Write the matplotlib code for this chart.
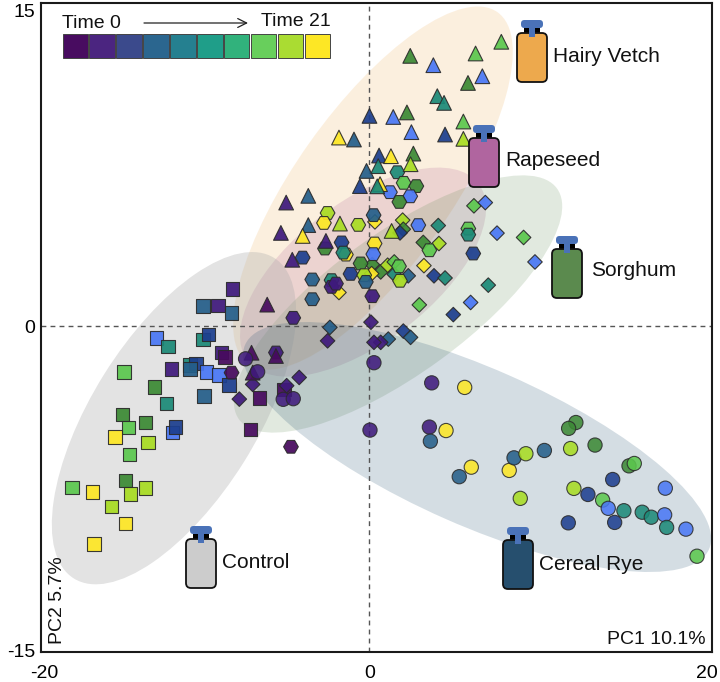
import matplotlib
matplotlib.use('Agg')
import matplotlib.pyplot as plt
from matplotlib.patches import Ellipse, FancyBboxPatch, Rectangle
from matplotlib.transforms import Affine2D

plt.rcParams['font.family'] = ['Liberation Sans', 'DejaVu Sans']

############################################
# data, time index 0-9 for every sample

legend_colors = ['#480c60', '#4b2580', '#3b4a8c', '#2b668f', '#258090',
                 '#1f9e89', '#31b27c', '#68cf5c', '#aadc32', '#fde725']

# colours the points really use
time_colors = ['#470a5e', '#3f1a7c', '#1d3f8f', '#255f8a', '#4a78f5',
               '#1c8a78', '#3c8a35', '#5cc84e', '#a8dc22', '#fde725']

control_x = [-12.90, -12.20, -10.08, -9.77, -8.96, -8.76, -14.88, -12.01, -10.88, -10.52,
             -10.88, -9.87, -9.13, -8.52, -13.02, -12.30, -10.02, -6.68, -5.19, -14.98,
             -14.62, -13.57, -11.93, -11.75, -15.41, -13.41, -14.54, -7.21, -14.80, -13.59,
             -14.48, -18.03, -16.78, -15.65, -14.80, -16.70, -8.30, -10.08, -9.17, -8.36]
control_y = [-0.54, -0.95, -0.62, -0.39, -1.22, -1.42, -2.11, -1.97, -1.80, -1.72,
             -1.97, -2.11, -2.26, -2.72, -2.80, -3.57, -3.22, -3.31, -2.92, -4.08,
             -4.68, -4.45, -4.91, -4.65, -5.11, -5.38, -5.92, -4.77, -7.12, -7.46,
             -7.74, -7.45, -7.66, -8.32, -9.12, -10.06, 1.72, 0.92, 0.95, 0.61]
control_t = [4, 5, 5, 2, 1, 0, 7, 1, 5, 2,
             3, 4, 4, 2, 6, 5, 3, 0, 0, 6,
             7, 6, 4, 2, 9, 8, 7, 0, 6, 8,
             8, 7, 9, 8, 9, 9, 1, 3, 1, 3]

sorghum_x = [6.33, 7.02, 7.73, 9.34, 10.03, 4.17, 2.01, 2.05, 1.85, 3.26,
             4.21, 0.33, 3.30, 2.35, 3.91, 4.58, 0.68, 0.17, 1.10, 1.50,
             1.50, 0.13, 7.20, 3.02, 6.13, 5.08, 0.09, 2.05, 2.49, 1.14,
             0.68, 0.27, -2.40, -2.54, -4.26, -7.08, -7.89, -5.02, -1.85]
sorghum_y = [5.55, 5.70, 4.29, 4.09, 2.96, 4.64, 4.89, 4.47, 4.30, 3.86,
             3.81, 4.81, 2.79, 2.32, 2.32, 2.22, 2.50, 2.84, 2.81, 2.96,
             2.39, 2.42, 1.89, 0.98, 1.09, 0.53, 0.18, -0.23, -0.52, -0.60,
             -0.75, -0.75, -0.06, -0.68, -2.37, -2.69, -3.37, -2.75, 1.55]
sorghum_t = [7, 4, 4, 7, 4, 5, 8, 6, 2, 6,
             8, 9, 9, 3, 2, 5, 6, 6, 8, 7,
             5, 9, 5, 7, 4, 2, 1, 2, 3, 3,
             1, 1, 3, 1, 1, 1, 1, 1, 9]

rapeseed_x = [-2.54, -2.76, -0.68, -1.69, -2.70, -1.43, -1.59, -4.05, -0.54, -3.47,
              -1.15, -2.30, -0.32, -0.22, -2.30, -2.03, -3.47, -4.62, 0.17, 1.69,
              2.07, 2.84, 1.24, 2.47, 1.81, 0.25, 2.96, 0.31, 0.23, 1.79,
              1.85, 5.99, 5.99, 6.29, 3.63, -8.36, -5.67, -4.76]
rapeseed_y = [5.22, 4.76, 4.67, 3.86, 3.58, 3.30, 3.39, 3.16, 2.89, 2.15,
              2.41, 2.12, 2.35, 2.04, 1.81, 1.96, 1.24, 0.38, 1.38, 7.10,
              6.61, 6.46, 6.18, 5.99, 5.73, 5.12, 4.66, 3.81, 3.32, 2.76,
              2.09, 4.50, 4.22, 3.35, 3.50, -2.15, -1.22, -5.57]
rapeseed_t = [8, 9, 8, 2, 6, 9, 5, 2, 6, 3,
              2, 5, 8, 3, 1, 1, 3, 1, 1, 5,
              7, 6, 4, 4, 6, 3, 4, 9, 4, 7,
              8, 7, 5, 2, 7, 0, 1, 0]

vetch_x = [-1.85, -0.94, -0.18, -0.58, 0.0, -5.05, -3.71, -1.79, -3.71, -5.37,
           -4.05, -2.64, -4.68, -6.20, 7.99, 6.43, 2.47, 3.87, 6.84, 5.97,
           4.11, 4.52, 1.44, 2.27, 5.69, 2.54, 4.58, 5.69, 2.66, 0.58,
           1.30, 2.49, 0.53, 0.64, 0.47, 1.34, -7.15, -5.67, -7.08]
vetch_y = [8.70, 8.61, 7.16, 6.46, 9.70, 5.70, 6.01, 4.73, 4.66, 4.30,
           4.16, 3.93, 3.06, 0.99, 13.12, 12.58, 12.47, 12.04, 11.53, 11.22,
           10.61, 10.30, 9.65, 9.86, 9.44, 8.95, 8.84, 8.64, 7.96, 7.87,
           7.84, 7.47, 7.38, 6.55, 6.45, 4.39, -1.23, -1.38, -2.15]
vetch_t = [9, 3, 3, 2, 2, 1, 3, 8, 3, 1,
           9, 1, 1, 0, 7, 7, 6, 4, 4, 6,
           5, 5, 4, 6, 7, 4, 2, 8, 6, 2,
           9, 8, 5, 9, 5, 8, 0, 0, 0]

rye_x = [0.27, 0.03, 3.77, 5.77, 3.63, 4.64, 3.69, 6.17, 5.44, 8.47,
         8.76, 9.48, 10.60, 9.14, 12.19, 12.51, 12.07, 13.67, 15.73, 16.05,
         14.74, 17.93, 12.39, 13.24, 14.13, 14.47, 15.42, 16.53, 17.08, 17.89,
         18.01, 19.18, 14.86, 12.05, 19.85, -7.51, -6.78, -5.23, -4.62]
rye_y = [-1.69, -4.80, -2.62, -2.83, -4.66, -4.82, -5.31, -6.51, -6.95, -6.66,
         -6.08, -5.89, -5.74, -7.95, -5.65, -4.45, -4.72, -5.49, -6.45, -6.34,
         -7.08, -7.48, -7.49, -7.77, -8.03, -8.41, -8.52, -8.59, -8.82, -8.71,
         -9.29, -9.37, -9.06, -9.08, -10.62, -1.51, -2.11, -3.38, -3.35]
rye_t = [1, 1, 1, 9, 1, 9, 3, 9, 3, 9,
         3, 8, 3, 8, 8, 6, 6, 6, 6, 7,
         2, 4, 8, 2, 7, 4, 5, 5, 5, 4,
         5, 4, 2, 2, 7, 1, 1, 1, 1]

# ellipse centres in PC units, sizes in pixels
ell_names = ['vetch', 'rapeseed', 'sorghum', 'control', 'rye']
ell_cx = [0.21, -0.39, 1.73, -11.85, 6.52]
ell_cy = [6.37, 2.49, 1.02, -4.25, -5.58]
ell_w = [431, 291, 393, 378, 507]
ell_h = [156, 140, 140, 165, 157]
ell_angle = [54.7, 37.5, 36, 58, -23.8]
ell_color = ['#eda94d', '#b2669c', '#5b8a4e', '#aaaaaa', '#2a5575']
ell_alpha = [0.18, 0.2, 0.18, 0.33, 0.2]

############################################
# plotting

fig = plt.figure(figsize=(7.2, 6.82), dpi=100)
ax = fig.add_axes([41/720, 1 - 652/682, 671/720, 649/682])

sx = 16.5
sy = 21.67
ax.set_xlim(-19.91, 20.76)
ax.set_ylim(-15.04, 14.91)

scaled = Affine2D().scale(1/sx, 1/sy) + ax.transData
for i in range(len(ell_names)):
    e = Ellipse((ell_cx[i]*sx, ell_cy[i]*sy), ell_w[i], ell_h[i], angle=ell_angle[i],
                transform=scaled, facecolor=ell_color[i], edgecolor='none',
                alpha=ell_alpha[i], zorder=1)
    ax.add_patch(e)

ax.axhline(0, color='#555555', lw=1, ls=(0, (3.5, 3)), zorder=1.5)
ax.axvline(0, color='#555555', lw=1, ls=(0, (3.5, 3)), zorder=1.5)


def scatter(xs, ys, ts, marker, size, z, alpha=0.93):
    cols = [time_colors[t] for t in ts]
    ax.scatter(xs, ys, c=cols, marker=marker, s=size, edgecolors='#2b2b2b',
               linewidths=0.8, alpha=alpha, zorder=z)


scatter(control_x, control_y, control_t, 's', 95, 2)
scatter(sorghum_x, sorghum_y, sorghum_t, 'D', 55, 3)
scatter(rapeseed_x, rapeseed_y, rapeseed_t, 'H', 112, 4)
scatter(vetch_x, vetch_y, vetch_t, '^', 112, 5)
scatter(rye_x, rye_y, rye_t, 'o', 105, 6, alpha=0.87)

ax.set_xticks([-19.73, 0, 20.45])
ax.set_xticklabels(['-20', '0', '20'])
ax.set_yticks([14.58, 0, -14.95])
ax.set_yticklabels(['15', '0', '-15'])
ax.tick_params(length=0, labelsize=14, pad=4)
ax.tick_params(axis='x', pad=9)
for s in ax.spines.values():
    s.set_linewidth(1.5)
    s.set_color('#1a1a1a')

#################################################
# overlay in pixels for legend and bottles
over = fig.add_axes([0, 0, 1, 1], facecolor='none')
over.set_xlim(0, 720)
over.set_ylim(682, 0)
over.axis('off')

for i in range(len(legend_colors)):
    over.add_patch(Rectangle((62.5 + i*26.9, 34), 25.5, 24, facecolor=legend_colors[i],
                             edgecolor='#444444', lw=0.7))
over.text(62, 23, 'Time 0', fontsize=14, va='center', ha='left', color='#111111')
over.text(331, 22, 'Time 21', fontsize=14, va='center', ha='right', color='#111111')
over.annotate('', xy=(248, 23), xytext=(144, 23),
              arrowprops=dict(arrowstyle='->', lw=0.9, color='#222222', mutation_scale=16,
                              shrinkA=0, shrinkB=0))

over.text(706, 640, 'PC1 10.1%', fontsize=14, va='center', ha='right', color='#111111')
over.text(58, 600, 'PC2 5.7%', fontsize=14, va='center', ha='center', rotation=90, color='#111111')


def bottle(x, y, col, label, lx, ly):
    # x, y = top left of the bottle body
    over.add_patch(Rectangle((x + 7, y - 5), 16, 5, facecolor='black', edgecolor='none', zorder=5))
    over.add_patch(Rectangle((x + 12, y - 6), 6, 10, facecolor='#4a72b8', edgecolor='none', zorder=7))
    over.add_patch(FancyBboxPatch((x + 6, y - 11), 18, 4, boxstyle='round,pad=2,rounding_size=3.5',
                                  facecolor='#4a72b8', edgecolor='none', zorder=7))
    over.add_patch(FancyBboxPatch((x + 5, y + 5), 20, 39, boxstyle='round,pad=5,rounding_size=5',
                                  facecolor=col, edgecolor='#111111', lw=1.3, zorder=6))
    over.text(lx, ly, label, fontsize=15, va='center', ha='left', color='#111111', zorder=8)


bottle(517, 33, '#eda94d', 'Hairy Vetch', 553, 57)
bottle(469, 138, '#b0659f', 'Rapeseed', 505, 160)
bottle(552, 249, '#5b8a4e', 'Sorghum', 591, 270)
bottle(186, 539, '#cccccc', 'Control', 222, 562)
bottle(503, 540, '#264f6e', 'Cereal Rye', 539, 565)

fig.savefig('out.png', dpi=100)
